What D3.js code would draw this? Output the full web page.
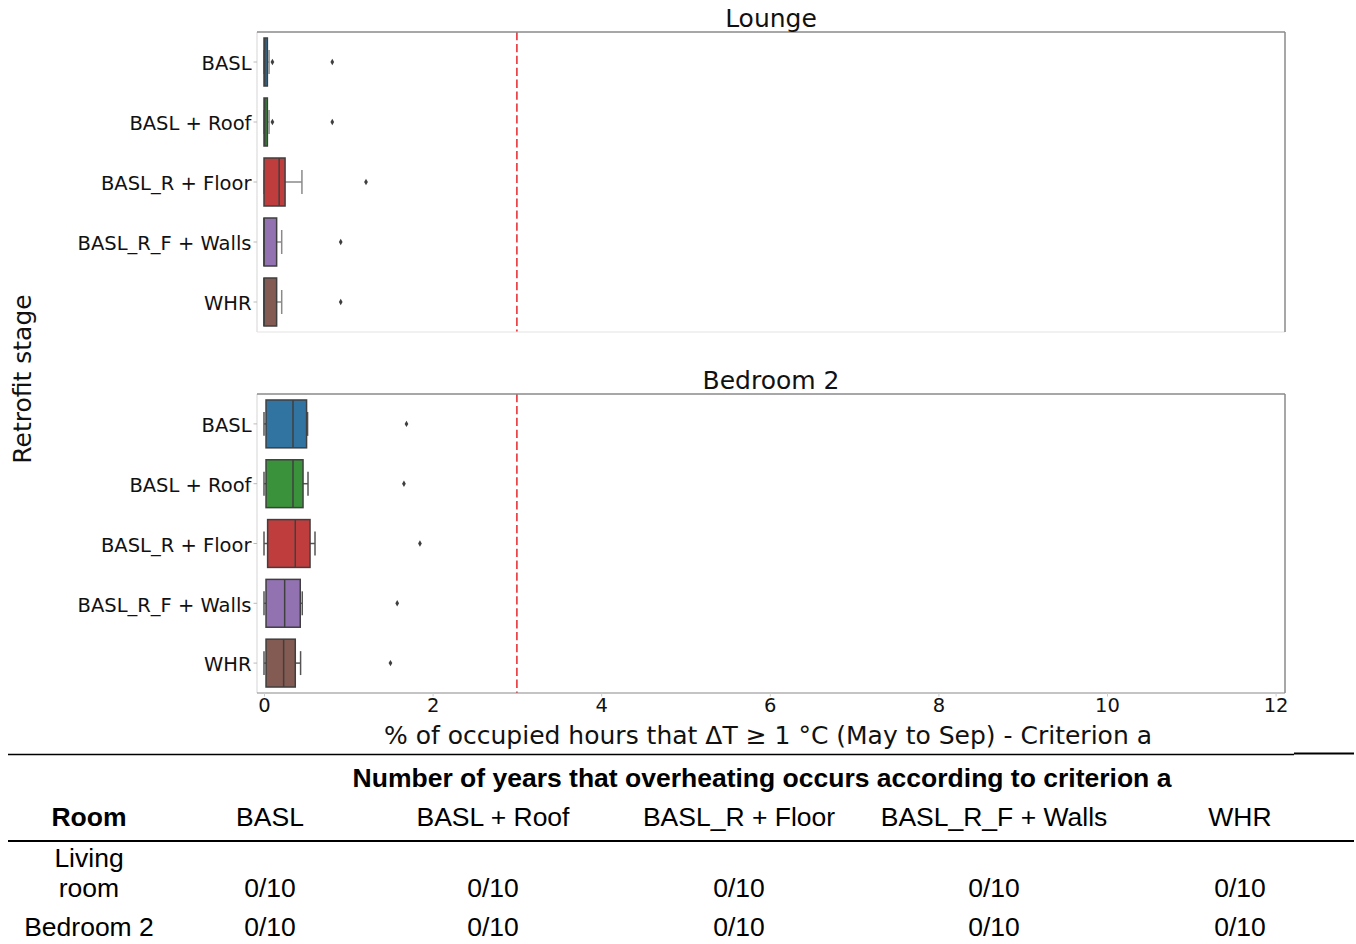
<!DOCTYPE html>
<html>
<head>
<meta charset="utf-8">
<script src="https://cdn.jsdelivr.net/npm/d3@7"></script>
<style>
  html, body { margin: 0; padding: 0; background: #fff; }
  svg { display: block; }
</style>
</head>
<body>
<svg id="chart" width="1356" height="944"></svg>
<script>
// Retrofit stages (y categories) and their fill colours
const stages = ["BASL", "BASL + Roof", "BASL_R + Floor", "BASL_R_F + Walls", "WHR"];
const stageColors = ["#3274a1", "#3a923a", "#c03d3e", "#9372b2", "#845b53"];

// Box statistics per stage: [lower whisker, Q1, median, Q3, upper whisker]
const loungeStats = [
  [0, 0, 0.01, 0.04, 0.06],
  [0, 0, 0.01, 0.04, 0.06],
  [0, 0, 0.18, 0.25, 0.45],
  [0, 0, 0.00, 0.15, 0.21],
  [0, 0, 0.00, 0.15, 0.21]
];
const loungeOutliers = [[0.10, 0.81], [0.10, 0.81], [1.21], [0.91], [0.91]];

const bedroomStats = [
  [0, 0.024, 0.344, 0.505, 0.517],
  [0, 0.024, 0.344, 0.463, 0.522],
  [0, 0.043, 0.371, 0.546, 0.605],
  [0, 0.024, 0.245, 0.430, 0.454],
  [0, 0.024, 0.233, 0.371, 0.434]
];
const bedroomOutliers = [[1.69], [1.66], [1.85], [1.58], [1.50]];

const xTicks = [0, 2, 4, 6, 8, 10, 12];
const threshold = 3;

// Summary table
const tableTitle = "Number of years that overheating occurs according to criterion a";
const tableRooms = [["Living", "room"], ["Bedroom 2"]];
const tableValues = [
  ["0/10", "0/10", "0/10", "0/10", "0/10"],
  ["0/10", "0/10", "0/10", "0/10", "0/10"]
];

const svg = d3.select("#chart");
const tickFont = "DejaVu Sans, sans-serif";
const left = 257, right = 1285;

// x range: 0 sits just inside the left spine, 12 just inside the right one
const x = d3.scaleLinear()
  .domain([(left - 264) / 84.3, (right - 264) / 84.3])
  .range([left, right]);

function panel(top, bottom, title, stats, outliers, showXAxis, bottomSpineColor, whiskerCol) {
  const y = d3.scaleBand().domain(stages).range([top, bottom]).paddingInner(0).paddingOuter(0);
  const g = svg.append("g");
  const bw = y.bandwidth() * 0.8;

  // threshold line
  g.append("line")
    .attr("x1", x(threshold)).attr("x2", x(threshold))
    .attr("y1", top).attr("y2", bottom)
    .attr("stroke", "#e8262b").attr("stroke-width", 1.5)
    .attr("stroke-dasharray", "8.3,3.6");

  const lineCol = "#3f3f3f";
  stages.forEach((s, i) => {
    const [lo, q1, med, q3, hi] = stats[i];
    const cy = y(s) + y.bandwidth() / 2;
    const gb = g.append("g");
    // whiskers
    gb.append("line").attr("x1", x(lo)).attr("x2", x(q1)).attr("y1", cy).attr("y2", cy)
      .attr("stroke", whiskerCol).attr("stroke-width", 1.5);
    gb.append("line").attr("x1", x(q3)).attr("x2", x(hi)).attr("y1", cy).attr("y2", cy)
      .attr("stroke", whiskerCol).attr("stroke-width", 1.5);
    // caps
    [lo, hi].forEach(v => {
      gb.append("line").attr("x1", x(v)).attr("x2", x(v))
        .attr("y1", cy - bw / 4).attr("y2", cy + bw / 4)
        .attr("stroke", whiskerCol).attr("stroke-width", 1.5);
    });
    // box
    gb.append("rect")
      .attr("x", x(q1)).attr("y", cy - bw / 2)
      .attr("width", Math.max(x(q3) - x(q1), 0.5)).attr("height", bw)
      .attr("fill", stageColors[i]).attr("stroke", lineCol).attr("stroke-width", 1.5);
    // median
    gb.append("line").attr("x1", x(med)).attr("x2", x(med))
      .attr("y1", cy - bw / 2).attr("y2", cy + bw / 2)
      .attr("stroke", lineCol).attr("stroke-width", 1.5);
    // outliers (diamonds)
    gb.selectAll("path.out").data(outliers[i]).enter().append("path")
      .attr("d", d3.symbol().type(d3.symbolDiamond).size(12))
      .attr("transform", d => `translate(${x(d)},${cy})`)
      .attr("fill", lineCol);
  });

  // spines
  g.append("line").attr("x1", left).attr("x2", left).attr("y1", top).attr("y2", bottom)
    .attr("stroke", "#dcdcdc").attr("stroke-width", 1.2);
  g.append("line").attr("x1", left).attr("x2", right).attr("y1", bottom).attr("y2", bottom)
    .attr("stroke", bottomSpineColor).attr("stroke-width", 1.2);
  g.append("line").attr("x1", left).attr("x2", right).attr("y1", top).attr("y2", top)
    .attr("stroke", "#8a8a8a").attr("stroke-width", 1.5);
  g.append("line").attr("x1", right).attr("x2", right).attr("y1", top).attr("y2", bottom)
    .attr("stroke", "#8a8a8a").attr("stroke-width", 1.5);

  // y axis
  const ya = g.append("g").attr("transform", `translate(${left},0)`)
    .call(d3.axisLeft(y).tickSize(3.5).tickPadding(2));
  ya.select(".domain").remove();
  ya.selectAll(".tick line").attr("stroke", "#bbbbbb");
  ya.selectAll("text").attr("font-family", tickFont).attr("font-size", 19.5)
    .attr("fill", "#111").attr("dy", "0.42em");

  if (showXAxis) {
    const xa = g.append("g").attr("transform", `translate(0,${bottom})`)
      .call(d3.axisBottom(x).tickValues(xTicks).tickSize(3.5).tickPadding(2).tickFormat(d3.format("d")));
    xa.select(".domain").remove();
    xa.selectAll(".tick line").attr("stroke", "#cccccc");
    xa.selectAll("text").attr("font-family", tickFont).attr("font-size", 19.5).attr("fill", "#111");
  }

  svg.append("text").attr("x", (left + right) / 2).attr("y", top - 5)
    .attr("text-anchor", "middle").attr("font-family", tickFont).attr("font-size", 25)
    .attr("fill", "#111").text(title);
}

panel(32, 332, "Lounge", loungeStats, loungeOutliers, false, "#e4e4e4", "#8a8a8a");
panel(394, 693, "Bedroom 2", bedroomStats, bedroomOutliers, true, "#8a8a8a", "#555555");

// axis labels
svg.append("text")
  .attr("transform", "translate(31,379) rotate(-90)")
  .attr("text-anchor", "middle").attr("font-family", tickFont).attr("font-size", 25)
  .attr("fill", "#111").text("Retrofit stage");
svg.append("text").attr("x", 768).attr("y", 744)
  .attr("text-anchor", "middle").attr("font-family", tickFont).attr("font-size", 25)
  .attr("fill", "#111").text("% of occupied hours that ΔT ≥ 1 °C (May to Sep) - Criterion a");

// table
const tf = "Liberation Sans, Arial, sans-serif";
const fs = 26.5;
svg.append("line").attr("x1", 8).attr("x2", 1294).attr("y1", 754.5).attr("y2", 754.5)
  .attr("stroke", "#000").attr("stroke-width", 1.3);
svg.append("line").attr("x1", 1294).attr("x2", 1354).attr("y1", 753.5).attr("y2", 753.5)
  .attr("stroke", "#000").attr("stroke-width", 2);
svg.append("text").attr("x", 762).attr("y", 787).attr("text-anchor", "middle")
  .attr("font-family", tf).attr("font-weight", "bold").attr("font-size", fs)
  .attr("fill", "#000").text(tableTitle);

const colX = [270, 493, 739, 994, 1240];
svg.append("text").attr("x", 89).attr("y", 826).attr("text-anchor", "middle")
  .attr("font-family", tf).attr("font-weight", "bold").attr("font-size", fs).text("Room");
svg.selectAll("text.hdr").data(stages).enter().append("text")
  .attr("x", (d, i) => colX[i]).attr("y", 826).attr("text-anchor", "middle")
  .attr("font-family", tf).attr("font-size", fs).text(d => d);
svg.append("line").attr("x1", 8).attr("x2", 1354).attr("y1", 841).attr("y2", 841)
  .attr("stroke", "#000").attr("stroke-width", 2);

const rowY = [897, 936];
tableRooms.forEach((lines, r) => {
  lines.forEach((t, k) => {
    svg.append("text").attr("x", 89).attr("y", rowY[r] - (lines.length - 1 - k) * 30)
      .attr("text-anchor", "middle").attr("font-family", tf).attr("font-size", fs).text(t);
  });
  tableValues[r].forEach((v, c) => {
    svg.append("text").attr("x", colX[c]).attr("y", rowY[r]).attr("text-anchor", "middle")
      .attr("font-family", tf).attr("font-size", fs).text(v);
  });
});
</script>
</body>
</html>
